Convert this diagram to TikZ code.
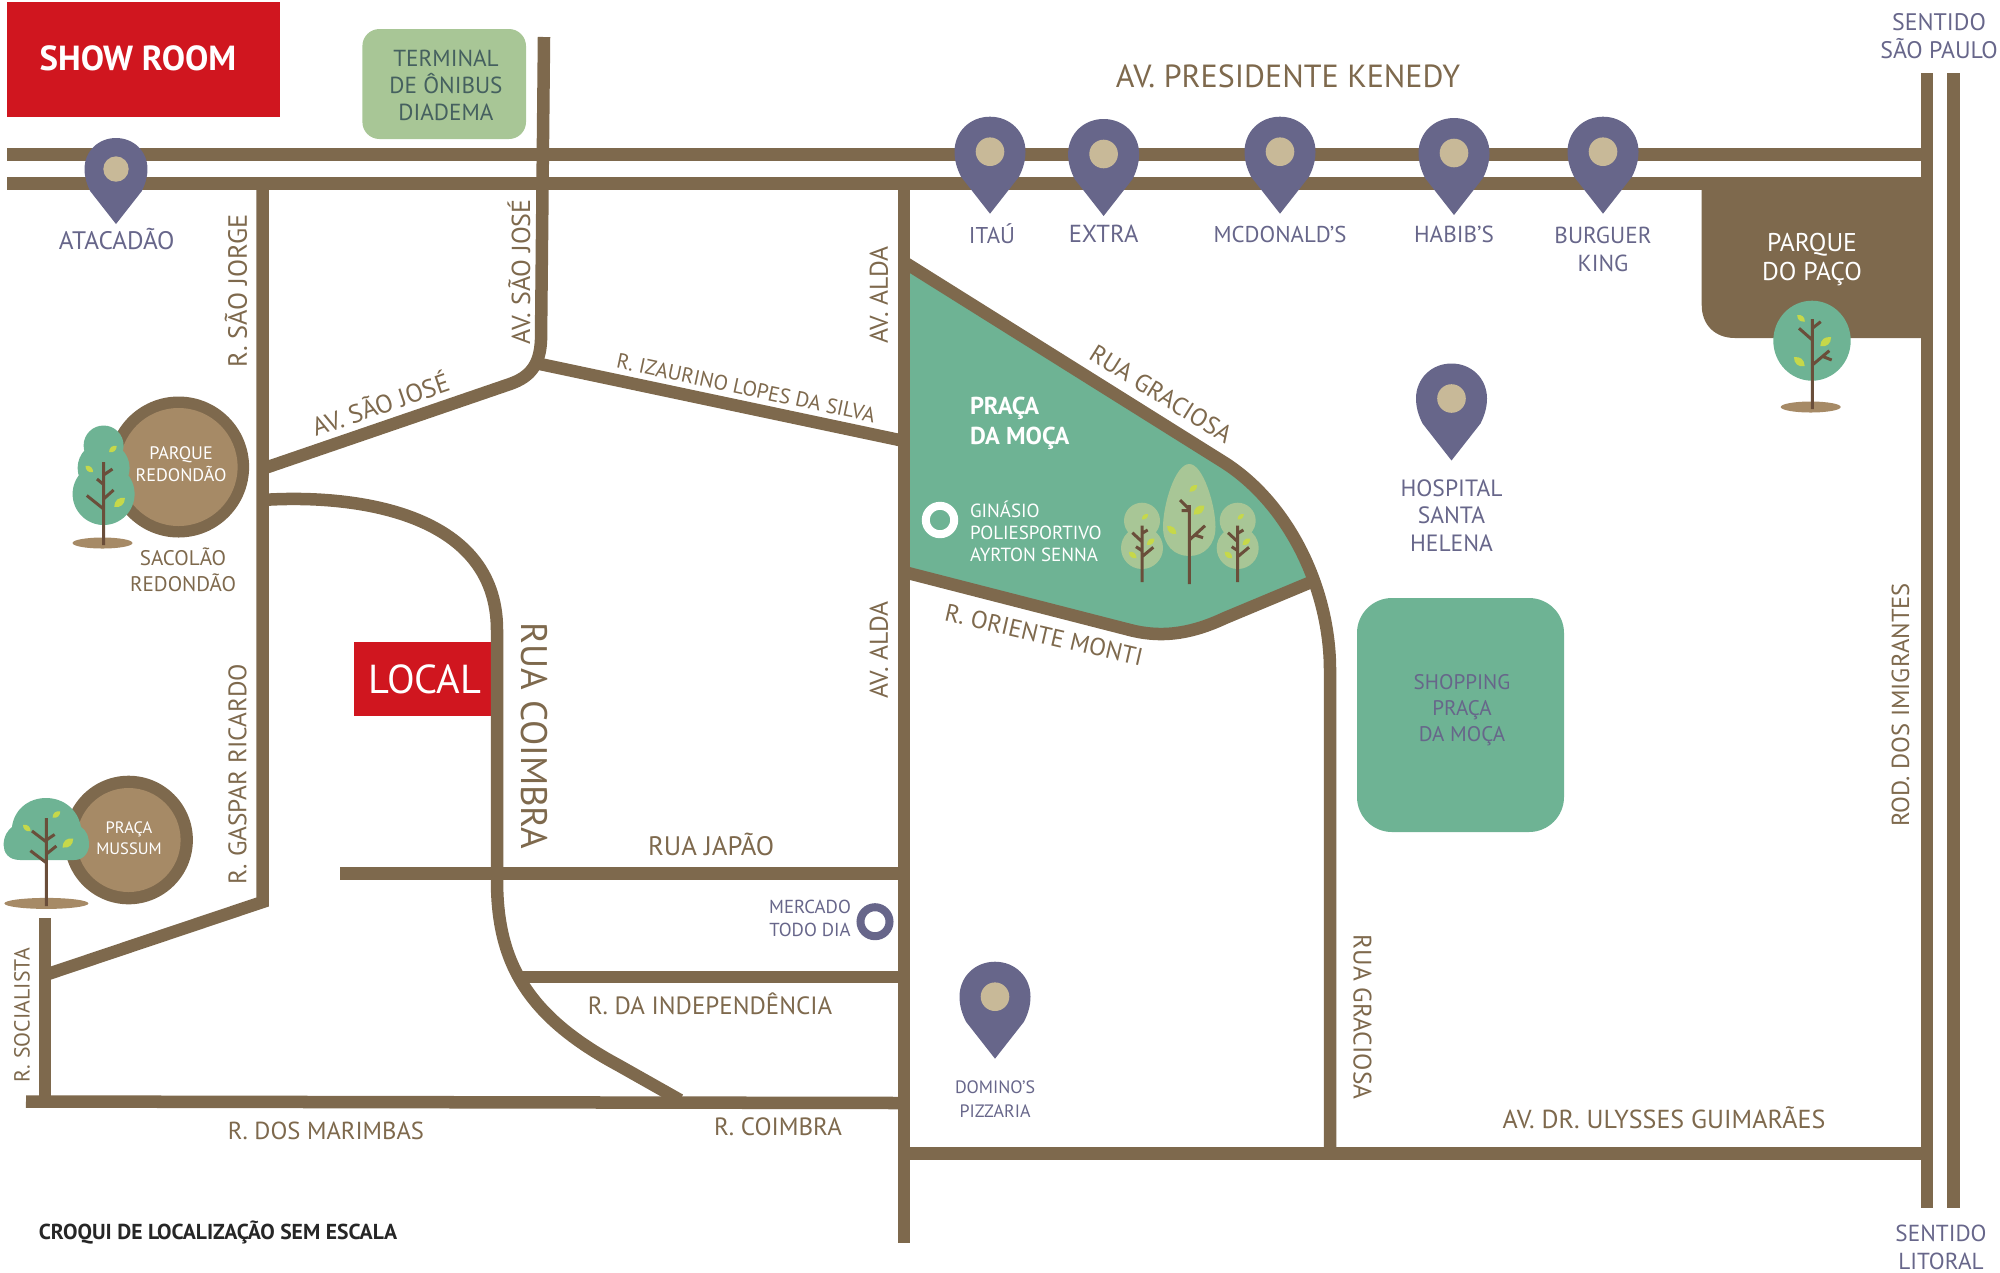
\documentclass[tikz,border=0pt]{standalone}
\usepackage{fontspec}
\setmainfont{PT Sans}
\definecolor{roadc}{HTML}{7E694D}
\definecolor{tanc}{HTML}{A68A66}
\definecolor{greenc}{HTML}{6EB394}
\definecolor{lightc}{HTML}{A8C696}
\definecolor{pinc}{HTML}{67668A}
\definecolor{dotc}{HTML}{C8B998}
\definecolor{redc}{HTML}{D0161F}
\definecolor{leafc}{HTML}{C6D84A}
\definecolor{trunkc}{HTML}{6A4E3A}
\definecolor{termc}{HTML}{45605F}
\newcommand{\fz}[2]{\fontsize{#1}{#2}\selectfont}
\newcommand{\leaf}[4]{\fill[leafc,shift={(#1,#2)},rotate=#3,scale=#4] (-1,0) .. controls (-.4,.7) and (.4,.7) .. (1,0) .. controls (.4,-.7) and (-.4,-.7) .. (-1,0) -- cycle;}
\newcommand{\pin}[3]{\begin{scope}[shift={(#1,#2)},scale=#3]
\fill[pinc] (0,97) -- (-29,60) .. controls (-33,52) and (-35.5,44) .. (-35.5,35) .. controls (-35.5,15) and (-20,0) .. (0,0) .. controls (20,0) and (35.5,15) .. (35.5,35) .. controls (35.5,44) and (33,52) .. (29,60) -- cycle;
\fill[dotc] (0,35) circle (14.3);
\end{scope}}
\tikzset{
road/.style={draw=roadc,line width=.125cm,line join=miter},
twig/.style={draw=trunkc,line width=.03cm},
lbl/.style={inner sep=0pt,align=center},
brown/.style={lbl,text=roadc},
purple/.style={lbl,text=pinc},
pale/.style={lbl,text=white}
}
\begin{document}
\begin{tikzpicture}[x=.01cm,y=-.01cm]
\useasboundingbox (0,0) rectangle (2000,1272);
\fill[greenc] (904,262)--(1225,463) .. controls (1275,495) and (1305,545) .. (1316,580)--(1225,618) .. controls (1195,632) and (1165,639) .. (1130,630)--(904,572)--cycle;
\fill[roadc] (1701.7,177)--(1701.7,305) .. controls (1701.7,325) and (1715,338) .. (1735,338)--(1925,338)--(1925,177)--cycle;
\fill[greenc,rounded corners=.35cm] (1357,598) rectangle (1564,832);
\fill[redc] (7,2) rectangle (280,117);
\fill[lightc,rounded corners=.17cm] (362.4,29) rectangle (526,139);
\fill[redc] (354,642) rectangle (492,716);
\fill[roadc] (178.6,467) circle (70.5);
\fill[tanc] (178.6,467) circle (59);
\fill[roadc] (128.6,840) circle (64.3);
\fill[tanc] (128.6,840) circle (52);
\draw[road] (7,154.5)--(1927,154.5);
\draw[road] (7,183.5)--(1927,183.5);
\draw[road] (1927,73)--(1927,1208);
\draw[road] (1953.5,73)--(1953.5,1208);
\draw[road] (544,37)--(541,340) .. controls (540,365) and (530,377) .. (510,384)--(262,469);
\draw[road] (540,364)--(904,441);
\draw[road] (904,183)--(904,1243);
\draw[road] (262.5,183)--(262.5,902)--(45,975);
\draw[road] (45,918)--(45,1102);
\draw[road] (26,1101.5)--(904,1103);
\draw[road] (262,500) .. controls (350,494) and (497,510) .. (497,630)--(497,880) .. controls (497,960) and (525,1015) .. (618,1065)--(680,1100);
\draw[road] (340,873.5)--(904,873.5);
\draw[road] (515,977)--(904,977);
\draw[road] (904,1153.5)--(1927,1153.5);
\draw[road] (904,262)--(1225,463) .. controls (1290,505) and (1330,590) .. (1330,670)--(1330,1153);
\draw[road] (904,572)--(1130,630) .. controls (1165,639) and (1195,632) .. (1225,618)--(1316,580);
\fill[greenc] (103.6,445.5) circle (20) (103.6,468) circle (26) (103.6,494) circle (31);
\fill[tanc] (102.5,543) ellipse (30 and 5.5);
\draw[twig] (103.6,462)--(103.6,545) (103.6,509)--(86.8,495.5) (103.6,499)--(113.6,490) (103.6,484.5)--(97,479) (103.6,475)--(112.5,469);
\leaf{112.9}{449}{40}{5}
\leaf{89.3}{469}{-40}{5}
\leaf{119.6}{502.4}{40}{7}
\fill[greenc] (20,860) .. controls (8,860) and (3.6,852) .. (3.6,845) .. controls (3.6,836) and (8,830) .. (12,827) .. controls (14,810) and (28,798) .. (46,798) .. controls (64,798) and (78,810) .. (81,827) .. controls (86,830) and (89,836) .. (89,845) .. controls (89,852) and (84,860) .. (74,860)--cycle;
\fill[tanc] (46.4,903.4) ellipse (42 and 5.5);
\draw[twig] (46.4,818)--(46.4,906) (46.4,862.8)--(30.4,850.7) (46.4,854)--(56.4,846) (46.4,842)--(32,831) (46.4,840)--(54.6,834.5);
\leaf{56.4}{814.5}{40}{5}
\leaf{26.8}{828}{-40}{5}
\leaf{67.9}{843}{40}{7}
\fill[greenc] (1812,340.7) ellipse (38.7 and 40);
\fill[tanc] (1810.7,407) ellipse (30 and 5.5);
\draw[twig] (1812.3,319)--(1812.3,409) (1812.3,340)--(1799,328.3) (1812.3,328.3)--(1820.7,321.7) (1812.3,365)--(1829.3,350.7) (1823.3,356.7)--(1831.7,360);
\leaf{1801}{318.3}{-40}{5}
\leaf{1825.7}{341.7}{40}{7}
\leaf{1799.3}{361.7}{-40}{7}
\foreach \tx in {1142,1237.7}{
\fill[lightc] (\tx,520.7) circle (18) (\tx,548) circle (21);
\draw[twig] (\tx,525.7)--(\tx,582) (\tx,541.7)--(\tx-9.7,532.7) (\tx,533.3)--(\tx+5.7,530) (\tx,556.7)--(\tx+11.3,547.3) (\tx,550.7)--(\tx-6,546.7);
\leaf{\tx+3}{516.7}{40}{4}
\leaf{\tx+8.7}{541.7}{40}{5}
\leaf{\tx-9.3}{555}{-40}{5}
}
\fill[lightc] (1189.3,464) .. controls (1203,464) and (1215.5,505) .. (1215.5,527) .. controls (1215.5,545) and (1204,556) .. (1189.3,556) .. controls (1174,556) and (1163,545) .. (1163,527) .. controls (1163,505) and (1175,464) .. (1189.3,464)--cycle;
\draw[twig] (1189.3,505)--(1189.3,584) (1189.3,540)--(1205,525.7) (1195,535)--(1203,537.7) (1189.3,510.7)--(1181.7,510.7) (1188.3,508.3)--(1180,500);
\leaf{1193.3}{488.3}{40}{5}
\leaf{1199}{510}{40}{7}
\leaf{1171.7}{530}{-40}{6}
\draw[white,line width=.08cm] (940,520) circle (14.2);
\draw[pinc,line width=.08cm] (875,921.7) circle (14.5);
\pin{116}{138}{.887}
\foreach \px/\py in {990/116.7,1103.6/119,1280/116.7,1454/118,1603/116.7,1451.5/363.5,995/961.7}{\pin{\px}{\py}{1}}
\node[pale,font=\fz{9.9}{12}\bfseries] (showroom) at (138,58) {SHOW ROOM};
\node[lbl,text=termc,font=\fz{6.6}{7.7}] (terminal) at (446,85) {TERMINAL\\DE ÔNIBUS\\DIADEMA};
\node[pale,font=\fz{11.5}{12}] (local) at (425,679) {LOCAL};
\node[purple,font=\fz{7.2}{8}] (atacadao) at (116.7,239) {ATACADÃO};
\node[brown,font=\fz{9.1}{10}] (kenedy) at (1288,76.7) {AV. PRESIDENTE KENEDY};
\node[purple,font=\fz{6.5}{8}] (itau) at (992,234) {ITAÚ};
\node[purple,font=\fz{7}{8}] (extra) at (1103.6,234) {EXTRA};
\node[purple,font=\fz{6.5}{8}] (mcdonalds) at (1280,234) {MCDONALD’S};
\node[purple,font=\fz{6.6}{8}] (habibs) at (1454,234) {HABIB’S};
\node[purple,font=\fz{6.6}{7.9}] (burguer) at (1603,249) {BURGUER\\KING};
\node[pale,font=\fz{7.3}{8.3}] (pacotext) at (1812,259.5) {PARQUE\\DO PAÇO};
\node[purple,font=\fz{6.8}{7.8}] (saopaulo) at (1939,36) {SENTIDO\\SÃO PAULO};
\node[purple,font=\fz{6.6}{7.9}] (litoral) at (1941,1247) {SENTIDO\\LITORAL};
\node[purple,font=\fz{6.7}{7.8}] (hospital) at (1451.5,515.5) {HOSPITAL\\SANTA\\HELENA};
\node[lbl,text=pinc,font=\fz{6}{7.3}] (shopping) at (1462,710) {SHOPPING\\PRAÇA\\DA MOÇA};
\node[pale,font=\fz{5.15}{6.3}] (redondaotext) at (181,464.5) {PARQUE\\REDONDÃO};
\node[brown,font=\fz{6}{7.3}] (sacolao) at (183,570) {SACOLÃO\\REDONDÃO};
\node[pale,font=\fz{4.7}{5.8}] (mussum) at (129,838) {PRAÇA\\MUSSUM};
\node[pale,font=\fz{6.95}{8.5}\bfseries,align=left,anchor=west] (moca) at (969.3,423.5) {PRAÇA\\DA MOÇA};
\node[pale,font=\fz{5.4}{6.3},align=left,anchor=west] (ginasio) at (969.3,531) {GINÁSIO\\POLIESPORTIVO\\AYRTON SENNA};
\node[purple,font=\fz{5.35}{6.6}] (mercado) at (810,918.5) {MERCADO\\TODO DIA};
\node[purple,font=\fz{5.1}{6.7}] (dominos) at (995,1099) {DOMINO’S\\PIZZARIA};
\node[brown,font=\fz{7.6}{9}] (japao) at (711,844) {RUA JAPÃO};
\node[brown,font=\fz{7.1}{9}] (independencia) at (710,1004) {R. DA INDEPENDÊNCIA};
\node[brown,font=\fz{7}{9}] (marimbas) at (326,1130.7) {R. DOS MARIMBAS};
\node[brown,font=\fz{7.1}{9}] (coimbra) at (778,1127) {R. COIMBRA};
\node[brown,font=\fz{7.4}{9}] (ulysses) at (1664,1118) {AV. DR. ULYSSES GUIMARÃES};
\node[lbl,text=black!85,font=\fz{6.15}{7}\bfseries] (croqui) at (218,1232.7) {CROQUI DE LOCALIZAÇÃO SEM ESCALA};
\node[brown,rotate=90,font=\fz{7.5}{9}] (saojorge) at (236,291) {R. SÃO JORGE};
\node[brown,rotate=90,font=\fz{7.4}{9}] (saojose) at (519,272) {AV. SÃO JOSÉ};
\node[brown,rotate=19,font=\fz{7.3}{9}] (saojoseb) at (380,403) {AV. SÃO JOSÉ};
\node[brown,rotate=-12,font=\fz{6}{7}] (izaurino) at (746,388) {R. IZAURINO LOPES DA SILVA};
\node[brown,rotate=90,font=\fz{7.3}{9}] (aldaa) at (879,295) {AV. ALDA};
\node[brown,rotate=90,font=\fz{7.3}{9}] (aldab) at (879,650) {AV. ALDA};
\node[brown,rotate=-32,font=\fz{7.1}{8}] (graciosaa) at (1161,394) {RUA GRACIOSA};
\node[brown,rotate=-13,font=\fz{7}{9}] (oriente) at (1044,635) {R. ORIENTE MONTI};
\node[brown,rotate=-90,font=\fz{10.5}{12}] (ruacoimbra) at (534,736) {RUA COIMBRA};
\node[brown,rotate=90,font=\fz{7.2}{9}] (gaspar) at (237.5,774) {R. GASPAR RICARDO};
\node[brown,rotate=90,font=\fz{6.2}{8}] (socialista) at (22,1015) {R. SOCIALISTA};
\node[brown,rotate=90,font=\fz{7}{9}] (imigrantes) at (1900.5,705) {ROD. DOS IMIGRANTES};
\node[brown,rotate=-90,font=\fz{7.2}{9}] (graciosab) at (1362.5,1017) {RUA GRACIOSA};
\end{tikzpicture}
\end{document}
